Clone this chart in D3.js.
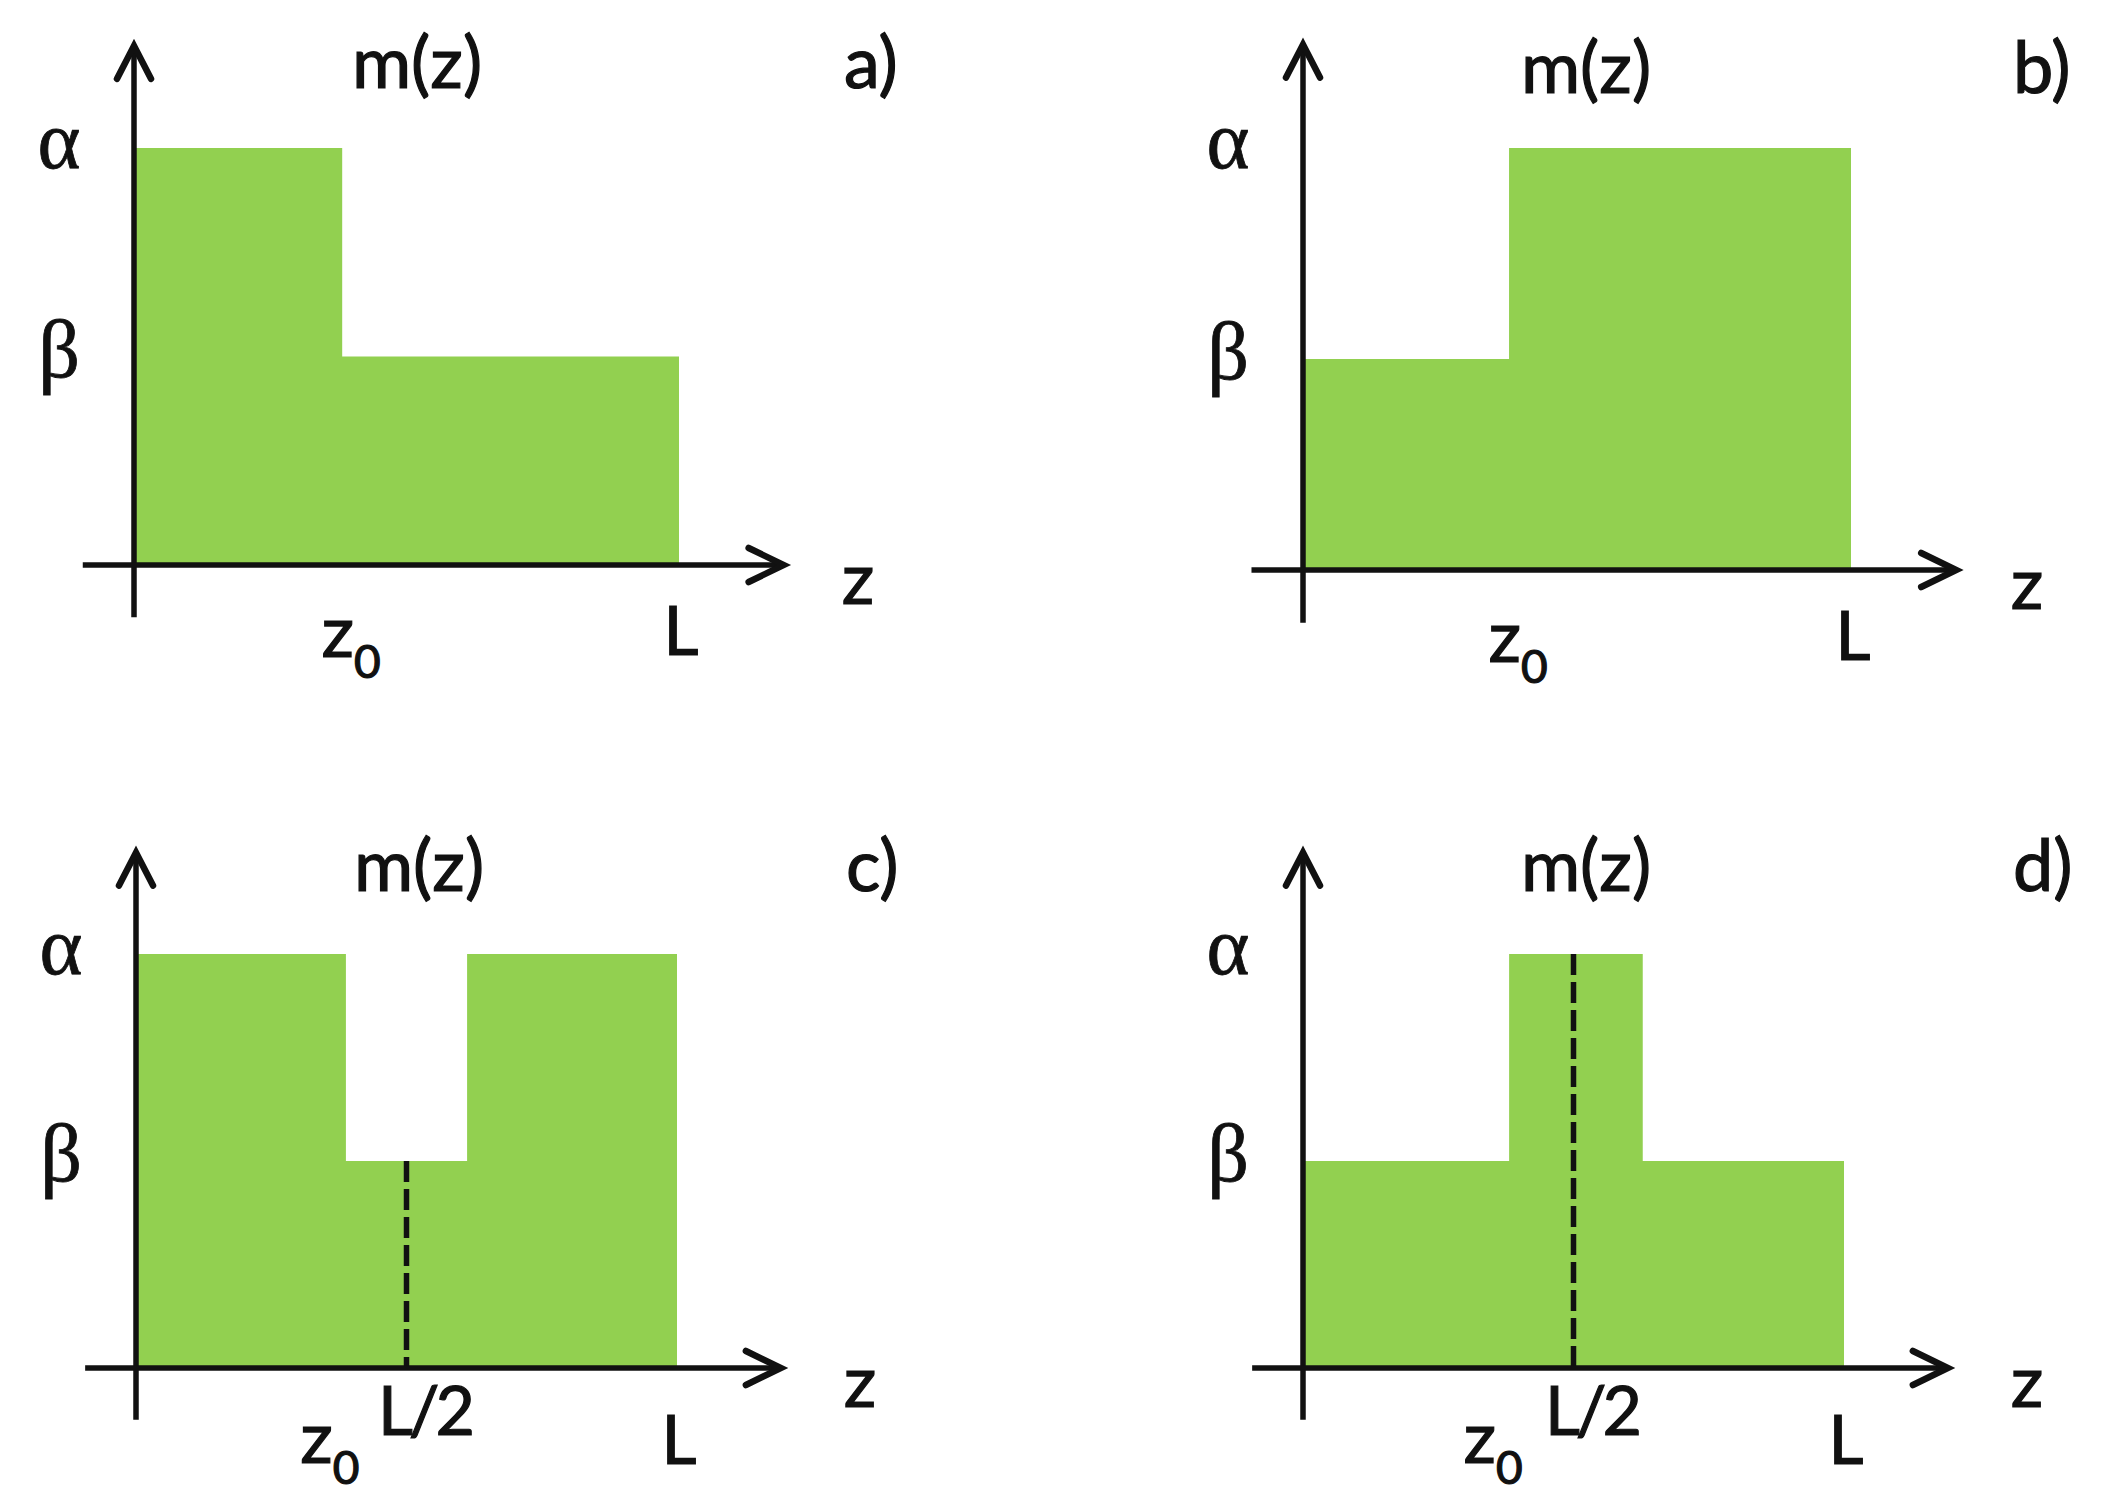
<!DOCTYPE html>
<html>
<head>
<meta charset="utf-8">
<script src="https://cdn.jsdelivr.net/npm/d3@7"></script>
<style>
  html, body { margin: 0; padding: 0; background: #fff; }
  svg { display: block; }
  .lbl { font-family: Lato, "Open Sans", sans-serif; fill: #111; stroke: #111; stroke-width: 1.2px; }
  .greek { font-family: "Liberation Serif", "DejaVu Serif", serif; fill: #111; stroke: #111; stroke-width: 0.8px; }
</style>
</head>
<body>
<script>
// ---------- data ----------
const panelNames = ["a)", "b)", "c)", "d)"];
const levelLabels = ["α", "β"];
const levelValues = [1.0, 0.5];           // α, β
const axisLabelY = "m(z)";
const axisLabelX = "z";
const tickZ0 = "z";                         // z with subscript 0
const tickZ0Sub = "0";
const tickL = "L";
const tickHalf = "L/2";

// step edges (fraction of L) and levels for each panel
const edgesA = [0, 0.382, 1];
const valuesA = [1.0, 0.5];
const edgesB = [0, 0.376, 1];
const valuesB = [0.5, 1.0];
const edgesC = [0, 0.388, 0.612, 1];
const valuesC = [1.0, 0.5, 1.0];
const edgesD = [0, 0.381, 0.628, 1];
const valuesD = [0.5, 1.0, 0.5];
const z0Values = [0.382, 0.376, 0.388, 0.381];
const midLineX = [null, null, 0.5, 0.5];   // dashed line at L/2
const midLineTop = [null, null, 0.5, 1.0]; // dashed line top value

const panelEdges = [edgesA, edgesB, edgesC, edgesD];
const panelValues = [valuesA, valuesB, valuesC, valuesD];

// ---------- layout ----------
const W = 2105, H = 1500;
const layout = [
  { ox: 134, oy: 565, w: 545, h: 417 },
  { ox: 1303, oy: 570, w: 548, h: 422 },
  { ox: 136, oy: 1368, w: 541, h: 414 },
  { ox: 1303, oy: 1368, w: 541, h: 414 }
];
const GREEN = "#92D050";
const INK = "#111";
const SW = 5.5;

const svg = d3.select("body").append("svg").attr("width", W).attr("height", H);

panelNames.forEach((name, p) => {
  const L = layout[p];
  const x = d3.scaleLinear().domain([0, 1]).range([L.ox, L.ox + L.w]);
  const y = d3.scaleLinear().domain([0, 1]).range([L.oy, L.oy - L.h]);
  const g = svg.append("g");
  const edges = panelEdges[p], vals = panelValues[p];

  // green step profile as one area (no seams)
  const pts = edges.map((e, i) => ({ z: e, m: i < vals.length ? vals[i] : vals[vals.length - 1] }));
  const area = d3.area()
    .x(d => x(d.z)).y0(y(0)).y1(d => y(d.m))
    .curve(d3.curveStepAfter);
  g.append("path").datum(pts).attr("d", area).attr("fill", GREEN);

  // dashed line at L/2
  if (midLineX[p] !== null) {
    g.append("line")
      .attr("x1", x(midLineX[p])).attr("x2", x(midLineX[p]))
      .attr("y1", y(midLineTop[p])).attr("y2", y(0))
      .attr("stroke", INK).attr("stroke-width", SW)
      .attr("stroke-dasharray", "21,7");
  }

  // axes
  const line = d3.line();
  const xMin = -0.094, xMax = 1.192, yMin = -0.125, yMax = 1.245;
  g.append("path").attr("d", line([[x(0), y(yMin)], [x(0), y(yMax)]]))
    .attr("stroke", INK).attr("stroke-width", SW).attr("fill", "none");
  g.append("path").attr("d", line([[x(xMin), y(0)], [x(xMax), y(0)]]))
    .attr("stroke", INK).attr("stroke-width", SW).attr("fill", "none");
  // arrowheads (open chevrons)
  const ty = y(yMax), tx = x(xMax);
  g.append("path").attr("d", line([[x(0) - 17, ty + 33], [x(0), ty], [x(0) + 17, ty + 33]]))
    .attr("stroke", INK).attr("stroke-width", 6.5).attr("fill", "none")
    .attr("stroke-linecap", "round").attr("stroke-linejoin", "miter");
  g.append("path").attr("d", line([[tx - 35, y(0) - 17], [tx, y(0)], [tx - 35, y(0) + 17]]))
    .attr("stroke", INK).attr("stroke-width", 6.5).attr("fill", "none")
    .attr("stroke-linecap", "round").attr("stroke-linejoin", "miter");

  // level labels α, β
  levelLabels.forEach((t, i) => {
    g.append("text").attr("class", "greek")
      .attr("x", x(0) - 75).attr("y", y(levelValues[i]) + 20)
      .attr("text-anchor", "middle").attr("font-size", 82)
      .text(t);
  });

  // m(z) title
  g.append("text").attr("class", "lbl")
    .attr("x", x(0) + 283).attr("y", y(0) - 477)
    .attr("text-anchor", "middle").attr("font-size", 72)
    .text(axisLabelY);
  // panel label
  g.append("text").attr("class", "lbl")
    .attr("x", x(0) + 710).attr("y", y(0) - 477)
    .attr("text-anchor", "start").attr("font-size", 72)
    .text(name);
  // z axis label
  g.append("text").attr("class", "lbl")
    .attr("x", x(0) + 724).attr("y", y(0) + 39)
    .attr("text-anchor", "middle").attr("font-size", 72)
    .text(axisLabelX);

  const hasMid = midLineX[p] !== null;
  // L label
  g.append("text").attr("class", "lbl")
    .attr("x", x(1) + 2).attr("y", y(0) + (hasMid ? 96 : 90))
    .attr("text-anchor", "middle").attr("font-size", 68)
    .text(tickL);
  // z0 label
  const zt = g.append("text").attr("class", "lbl")
    .attr("x", x(z0Values[p]) + (hasMid ? -16 : 9))
    .attr("y", y(0) + (hasMid ? 95 : 92))
    .attr("text-anchor", "middle").attr("font-size", 72);
  zt.append("tspan").text(tickZ0);
  zt.append("tspan").attr("font-size", 46).attr("dy", 21).text(tickZ0Sub);
  // L/2 label
  if (hasMid) {
    g.append("text").attr("class", "lbl")
      .attr("x", x(midLineX[p]) + 18).attr("y", y(0) + 67)
      .attr("text-anchor", "middle").attr("font-size", 68)
      .attr("letter-spacing", -4)
      .text(tickHalf);
  }
});
</script>
</body>
</html>
